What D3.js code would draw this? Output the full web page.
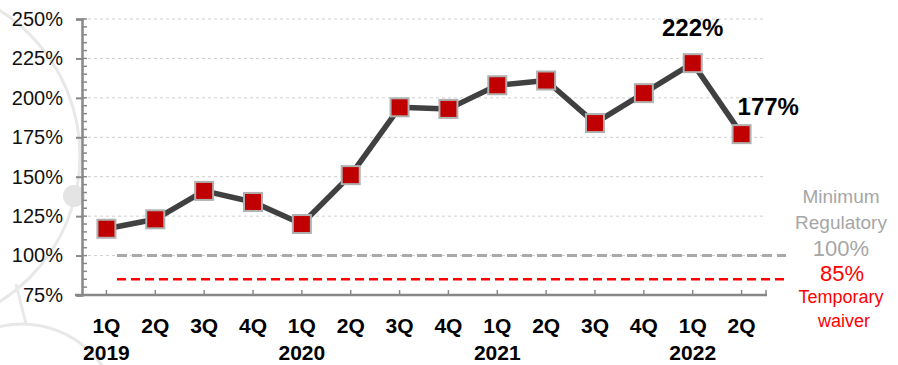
<!DOCTYPE html>
<html>
<head>
<meta charset="utf-8">
<script src="https://cdn.jsdelivr.net/npm/d3@7"></script>
<style>
  html, body { margin: 0; padding: 0; background: #fff; }
  svg { display: block; font-family: "Liberation Sans", Arial, sans-serif; }
</style>
</head>
<body>
<svg id="chart" width="898" height="365"></svg>
<script>
// Quarterly coverage ratio, 1Q 2019 – 2Q 2022
const quarters = ["1Q","2Q","3Q","4Q","1Q","2Q","3Q","4Q","1Q","2Q","3Q","4Q","1Q","2Q"];
const years    = ["2019","","","","2020","","","","2021","","","","2022",""];
const ratio    = [117, 123, 141, 134, 120, 151, 194, 193, 208, 211, 184, 203, 222, 177];

const yTicks = [75, 100, 125, 150, 175, 200, 225, 250];
const minorTicks = d3.range(75, 251, 5);

// Reference levels shown at the right
const minimumLevel = 100;
const waiverLevel  = 85;
const minimumLines = ["Minimum", "Regulatory"];
const waiverLines  = ["Temporary", "waiver"];

// Values called out above the last two points
const callouts = [12, 13];

const svg = d3.select("#chart");

// faint decorative rings behind the chart
const deco = svg.append("g").attr("fill", "none").attr("stroke", "#e8e8e8").attr("stroke-width", 3);
deco.append("circle").attr("cx", -92).attr("cy", 156).attr("r", 172);
deco.append("circle").attr("cx", 22).attr("cy", 422).attr("r", 98);
deco.append("line").attr("x1", 16).attr("y1", 284).attr("x2", 26).attr("y2", 324);
svg.append("circle").attr("cx", 74).attr("cy", 196).attr("r", 11).attr("fill", "#e4e4e4");

const x = d3.scaleBand().domain(d3.range(quarters.length)).range([82, 766]);
const cx = i => x(i) + x.bandwidth() / 2;
const y = d3.scaleLinear().domain([75, 250]).range([295, 19]);

// dotted gridlines
svg.append("g").selectAll("line").data(yTicks.slice(1)).join("line")
  .attr("x1", 82).attr("x2", 766)
  .attr("y1", d => y(d)).attr("y2", d => y(d))
  .attr("stroke", "#cfcfcf").attr("stroke-width", 1).attr("stroke-dasharray", "3,3");

// y axis with minor ticks on the inside
const yAxis = svg.append("g").attr("transform", "translate(82,0)")
  .call(d3.axisLeft(y).tickValues(yTicks).tickFormat(d => d + "%").tickSize(6).tickPadding(13));
yAxis.select(".domain").attr("stroke", "#888").attr("stroke-width", 2.5);
yAxis.selectAll(".tick line").attr("stroke", "#888").attr("stroke-width", 2);
yAxis.selectAll(".tick text").attr("font-size", 20).attr("fill", "#111")
  .attr("font-family", "Liberation Sans, Arial, sans-serif");
svg.append("g").selectAll("line").data(minorTicks).join("line")
  .attr("x1", 82).attr("x2", 87)
  .attr("y1", d => y(d)).attr("y2", d => y(d))
  .attr("stroke", "#888").attr("stroke-width", 1.5);

// x axis line with small inward ticks
svg.append("line").attr("x1", 75).attr("x2", 767).attr("y1", y(75)).attr("y2", y(75))
  .attr("stroke", "#888").attr("stroke-width", 2.5);
svg.append("g").selectAll("line").data(d3.range(quarters.length)).join("line")
  .attr("x1", cx).attr("x2", cx).attr("y1", y(75)).attr("y2", y(75) - 5)
  .attr("stroke", "#888").attr("stroke-width", 1.5);
svg.append("line").attr("x1", 766).attr("x2", 766).attr("y1", y(75)).attr("y2", y(75) - 5)
  .attr("stroke", "#888").attr("stroke-width", 1.5);

// category labels
svg.append("g").selectAll("text").data(quarters).join("text")
  .attr("x", (d, i) => cx(i)).attr("y", 333)
  .attr("text-anchor", "middle").attr("font-weight", "bold").attr("font-size", 21)
  .attr("fill", "#000").text(d => d);
svg.append("g").selectAll("text").data(years).join("text")
  .attr("x", (d, i) => cx(i)).attr("y", 360)
  .attr("text-anchor", "middle").attr("font-weight", "bold").attr("font-size", 21)
  .attr("fill", "#000").text(d => d);

// reference lines
svg.append("line").attr("x1", 117).attr("x2", 786)
  .attr("y1", y(minimumLevel)).attr("y2", y(minimumLevel))
  .attr("stroke", "#a9a9a9").attr("stroke-width", 3).attr("stroke-dasharray", "10,5");
svg.append("line").attr("x1", 117).attr("x2", 786)
  .attr("y1", y(waiverLevel)).attr("y2", y(waiverLevel))
  .attr("stroke", "#ff0000").attr("stroke-width", 2.5).attr("stroke-dasharray", "9,5");

const refX = 841;
svg.append("g").selectAll("text").data(minimumLines).join("text")
  .attr("x", refX).attr("y", (d, i) => 203 + i * 26)
  .attr("text-anchor", "middle").attr("font-size", 19).attr("fill", "#a6a6a6").text(d => d);
svg.append("text").attr("x", refX).attr("y", 256)
  .attr("text-anchor", "middle").attr("font-size", 22).attr("fill", "#a6a6a6")
  .text(minimumLevel + "%");
svg.append("text").attr("x", refX + 1).attr("y", 281)
  .attr("text-anchor", "middle").attr("font-size", 22).attr("fill", "#ff0000")
  .text(waiverLevel + "%");
svg.append("g").selectAll("text").data(waiverLines).join("text")
  .attr("x", (d, i) => refX + i * 3).attr("y", (d, i) => 302.5 + i * 24)
  .attr("text-anchor", "middle").attr("font-size", 18).attr("fill", "#ff0000").text(d => d);

// series line and markers
const line = d3.line().x((d, i) => cx(i)).y(d => y(d));
svg.append("path").datum(ratio).attr("d", line)
  .attr("fill", "none").attr("stroke", "#404040").attr("stroke-width", 5.5)
  .attr("stroke-linejoin", "round");
const m = 18;
svg.append("g").selectAll("rect").data(ratio).join("rect")
  .attr("x", (d, i) => cx(i) - m / 2).attr("y", d => y(d) - m / 2)
  .attr("width", m).attr("height", m)
  .attr("fill", "#c00000").attr("stroke", "#b0b0b0").attr("stroke-width", 2);

// value callouts
svg.append("text").attr("x", cx(callouts[0])).attr("y", 36)
  .attr("text-anchor", "middle").attr("font-weight", "bold").attr("font-size", 24)
  .text(ratio[callouts[0]] + "%");
svg.append("text").attr("x", cx(callouts[1]) - 4).attr("y", 115)
  .attr("text-anchor", "start").attr("font-weight", "bold").attr("font-size", 24)
  .text(ratio[callouts[1]] + "%");
</script>
</body>
</html>
